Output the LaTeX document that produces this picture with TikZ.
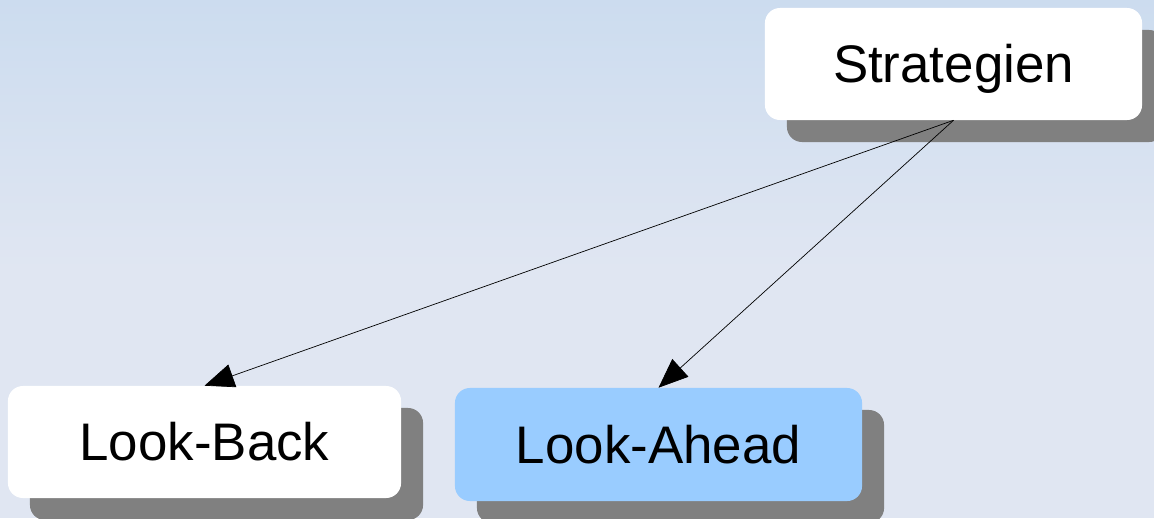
\documentclass[tikz,border=0pt]{standalone}
\usepackage{fontspec}
\setmainfont{Liberation Sans}
\usetikzlibrary{arrows.meta, shadows, positioning}

\definecolor{bgtop}{RGB}{204,220,239}
\definecolor{bgbot}{RGB}{224,230,242}
\definecolor{shadowgray}{RGB}{128,128,128}
\definecolor{aheadblue}{RGB}{153,204,255}

\begin{document}
\begin{tikzpicture}[x=0.025cm, y=-0.025cm,
    box/.style={rectangle, rounded corners=0.375cm, fill=white, inner sep=0pt,
      minimum height=2.8cm, text height=26.9pt, text depth=0pt,
      font=\fontsize{37.6}{45}\selectfont,
      drop shadow={shadow xshift=0.55cm, shadow yshift=-0.55cm, fill=shadowgray, opacity=1}},
    link/.style={-{Triangle[length=21pt, width=17pt]}, line width=0.5pt}]
    % background
    \fill[bgbot] (0,0) rectangle (1154,518);
    \shade[top color=bgtop, bottom color=bgbot] (0,0) rectangle (1154,270);
    \useasboundingbox (0,0) rectangle (1154,518);
    % nodes
    \node[box, minimum width=9.425cm] (strat) at (953.5,64) {Strategien};
    \node[box, minimum width=9.825cm] (back) at (204.5,442) {Look-Back};
    \node[box, minimum width=10.175cm, minimum height=2.825cm, fill=aheadblue] (ahead) at (658.5,444.5) {Look-Ahead};
    % links
    \draw[link] (strat.south) -- (back.north);
    \draw[link] (strat.south) -- (ahead.north);
\end{tikzpicture}
\end{document}
